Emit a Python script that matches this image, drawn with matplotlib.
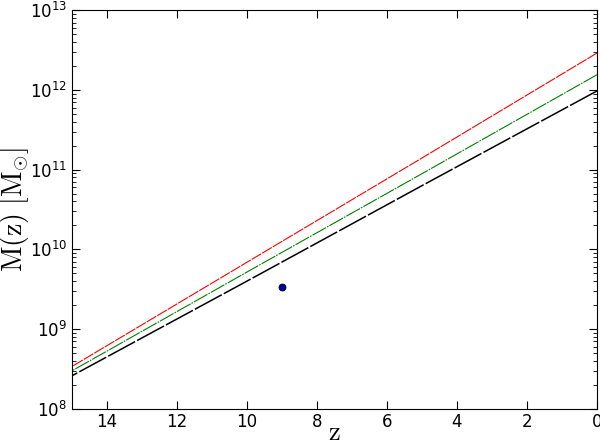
import numpy as np
import matplotlib
matplotlib.use('Agg')
import matplotlib.pyplot as plt

# values (z, M in solar masses)
z_vals = [0, 5, 10, 15]
m_red = [2.9e12, 1.4e11, 6.9e9, 3.4e8]
m_green = [1.55e12, 8.9e10, 5.2e9, 3.0e8]
m_black = [9.7e11, 6.3e10, 4.0e9, 2.6e8]

z_point = [9.0]
m_point = [3.4e9]

plt.rcParams['xtick.direction'] = 'in'
plt.rcParams['ytick.direction'] = 'in'
plt.rcParams['xtick.top'] = True
plt.rcParams['ytick.right'] = True

fig = plt.figure(figsize=(6.0, 4.42), dpi=100)
ax = fig.add_axes([0.12, 0.075, 0.875, 0.902])

ax.plot(z_vals, m_red, color='red', lw=0.8, dashes=(10, 1))
ax.plot(z_vals, m_green, color='green', lw=0.8, dashes=(14, 1, 1.5, 1))
ax.plot(z_vals, m_black, color='black', lw=1.1, dashes=(20, 1.5))
ax.plot(z_point, m_point, 'o', color='#0000aa', mec='black', mew=0.6, ms=5)

ax.set_yscale('log')
ax.set_xlim(15, 0)
ax.set_ylim(1e8, 1e13)
ax.set_xticks([14, 12, 10, 8, 6, 4, 2, 0])
ax.tick_params(which='major', length=6, labelsize=12)
ax.tick_params(axis='x', pad=3)
ax.tick_params(which='minor', length=3)

ax.set_xlabel(r'$\rm z$', fontsize=19, labelpad=-8, math_fontfamily='cm')
ax.set_ylabel(r'$\rm M(z)\ [M_{\odot}]$', fontsize=20, labelpad=-1,
              math_fontfamily='cm')

fig.savefig('out.png', dpi=100)
